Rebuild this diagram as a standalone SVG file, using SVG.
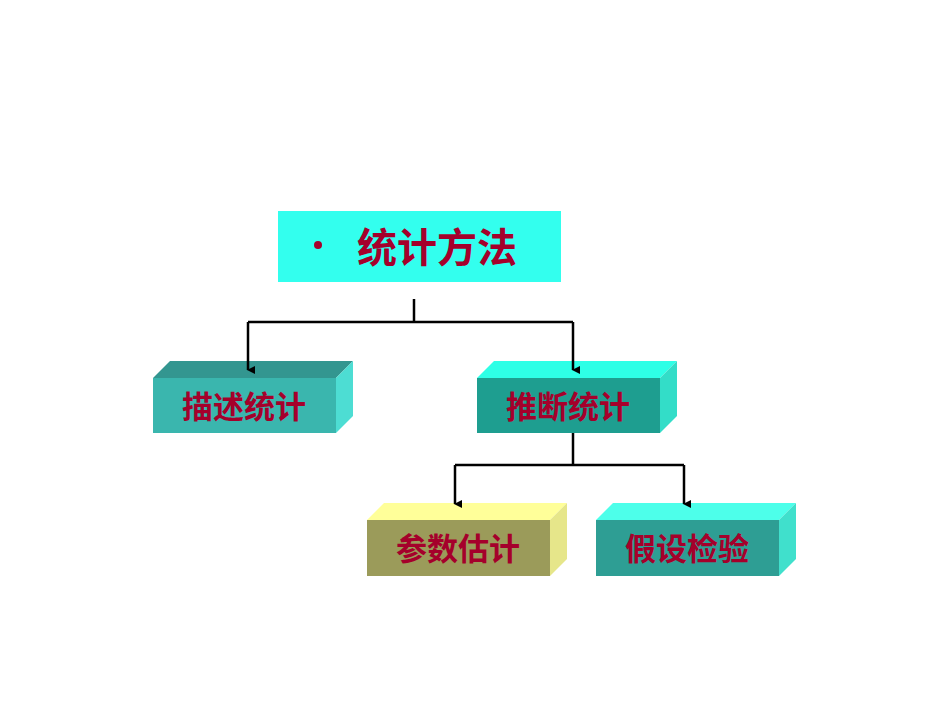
<svg xmlns="http://www.w3.org/2000/svg" width="950" height="713" viewBox="0 0 950 713">
<style>
text{font-family:"Noto Sans CJK SC","Liberation Sans",sans-serif;font-weight:bold;fill:#A5002B;text-anchor:middle}
.c{fill:none;stroke:#000;stroke-width:2.5}
</style>
<defs><marker id="a" markerWidth="8" markerHeight="8" refX="4" refY="7" orient="auto" markerUnits="userSpaceOnUse" viewBox="0 0 8 8"><path d="M0,0L8,0L4,8z" fill="#000"/></marker></defs>
<rect width="950" height="713" fill="#fff"/>
<g id="title"><rect x="278" y="211" width="283" height="71" fill="#33FFEE"/><circle cx="318" cy="245" r="4" fill="#A5002B"/><text x="437" y="262" font-size="40">统计方法</text></g>
<g id="n1"><polygon points="153,378 170,361 353,361 336,378" fill="#339690"/><polygon points="336,378 353,361 353,416 336,433" fill="#4DDDD3"/><rect x="153" y="378" width="183" height="55" fill="#3AB6AE"/><text x="244" y="418" font-size="31">描述统计</text></g>
<g id="n2"><polygon points="477,378 494,361 677,361 660,378" fill="#2EFFE6"/><polygon points="660,378 677,361 677,416 660,433" fill="#33DDC8"/><rect x="477" y="378" width="183" height="55" fill="#1E9E90"/><text x="568" y="418" font-size="31">推断统计</text></g>
<g id="n3"><polygon points="367,520 384,503 567,503 550,520" fill="#FFFF99"/><polygon points="550,520 567,503 567,559 550,576" fill="#E6E68A"/><rect x="367" y="520" width="183" height="56" fill="#9B9B5A"/><text x="458" y="560" font-size="31">参数估计</text></g>
<g id="n4"><polygon points="596,520 613,503 796,503 779,520" fill="#4DFFEA"/><polygon points="779,520 796,503 796,559 779,576" fill="#40E0CC"/><rect x="596" y="520" width="183" height="56" fill="#2E9E94"/><text x="687" y="560" font-size="31">假设检验</text></g>
<g id="connectors">
<path class="c" d="M414,299V322"/>
<path class="c" d="M248,322H573"/>
<path class="c" d="M248,322V370" marker-end="url(#a)"/>
<path class="c" d="M573,322V370" marker-end="url(#a)"/>
<path class="c" d="M573,433V465"/>
<path class="c" d="M455,465H684"/>
<path class="c" d="M455,465V504" marker-end="url(#a)"/>
<path class="c" d="M684,465V504" marker-end="url(#a)"/>
</g>
</svg>
